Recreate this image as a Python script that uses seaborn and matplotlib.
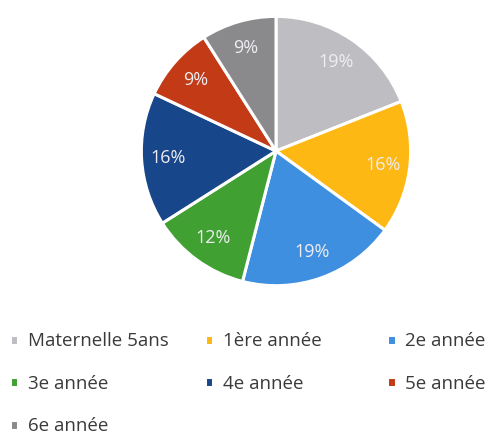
import matplotlib.pyplot as plt
import seaborn as sns

# classes and share of pupils (%)
classes = ["Maternelle 5ans", "1ère année", "2e année", "3e année",
           "4e année", "5e année", "6e année"]
parts = [19, 16, 19, 12, 16, 9, 9]
colors = ["#BEBEC2", "#FDB813", "#3F8FE0", "#40A032",
          "#17468A", "#C23A16", "#8A8A8C"]

sns.set_theme(style="white")
plt.rcParams['font.family'] = ['Open Sans', 'DejaVu Sans']

fig = plt.figure(figsize=(4.87, 4.38), dpi=100)
ax = fig.add_axes([0.2875, 0.3447, 0.5585, 0.621])

wedges, texts, autotexts = ax.pie(
    parts, colors=colors, startangle=90, counterclock=False,
    autopct=lambda p: f"{p:.0f}%", pctdistance=0.8,
    wedgeprops=dict(edgecolor="white", linewidth=2.2),
    textprops=dict(color="#EDEDF2", fontsize=13))
ax.set_xlim(-1.01, 1.01)
ax.set_ylim(-1.01, 1.01)
ax.set_aspect("equal")

# legend laid out in three columns, row by row
cols = [[0, 3, 6], [1, 4], [2, 5]]
xs = [0.005, 0.405, 0.78]
for x, idx in zip(xs, cols):
    fig.legend([wedges[i] for i in idx], [classes[i] for i in idx],
               loc="upper left", bbox_to_anchor=(x, 0.258), frameon=False,
               fontsize=13.5, handlelength=0.45, handleheight=0.45,
               handletextpad=0.5, labelspacing=1.3, borderaxespad=0,
               labelcolor="#3A3A3A")

fig.savefig("out.png", dpi=100)
